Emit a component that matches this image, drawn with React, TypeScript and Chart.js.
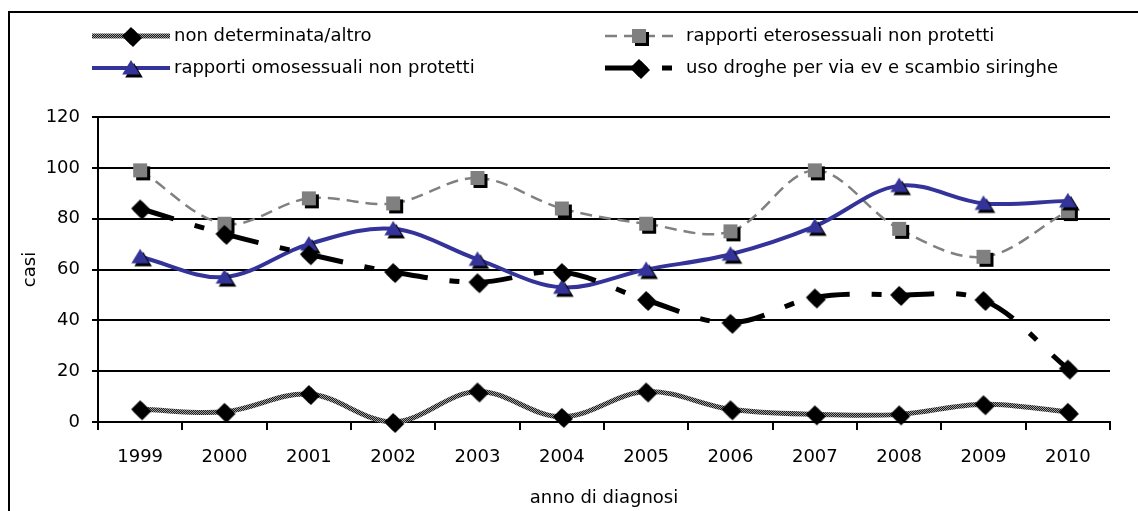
import React, { useEffect, useRef } from "react";
import { Chart, registerables } from "chart.js";

Chart.register(...registerables);

const years = ["1999", "2000", "2001", "2002", "2003", "2004", "2005", "2006", "2007", "2008", "2009", "2010"];
const nonDeterminata = [5, 4, 11, 0, 12, 2, 12, 5, 3, 3, 7, 4];
const eterosessuali = [99, 78, 88, 86, 96, 84, 78, 75, 99, 76, 65, 83];
const omosessuali = [65, 57, 70, 76, 64, 53, 60, 66, 77, 93, 86, 87];
const droghe = [84, 74, 66, 59, 55, 59, 48, 39, 49, 50, 48, 21];

const seriesNames = [
  "non determinata/altro",
  "rapporti eterosessuali non protetti",
  "rapporti omosessuali non protetti",
  "uso droghe per via ev e scambio siringhe",
];

const FONT = "'DejaVu Sans', sans-serif";

function makeMarker(shape: string, fill: string, r: number, off: number) {
  const pad = off + 2;
  const s = Math.ceil(2 * (r + pad));
  const c = document.createElement("canvas");
  c.width = s;
  c.height = s;
  const g = c.getContext("2d")!;
  const cx = s / 2;
  const cy = s / 2;
  const draw = (x: number, y: number) => {
    g.beginPath();
    if (shape === "square") {
      g.rect(x - r, y - r, 2 * r, 2 * r);
    } else if (shape === "triangle") {
      g.moveTo(x, y - r);
      g.lineTo(x + r * 1.1, y + r * 0.8);
      g.lineTo(x - r * 1.1, y + r * 0.8);
      g.closePath();
    } else {
      g.moveTo(x, y - r);
      g.lineTo(x + r, y);
      g.lineTo(x, y + r);
      g.lineTo(x - r, y);
      g.closePath();
    }
    g.fill();
  };
  g.fillStyle = "#000";
  draw(cx + off, cy + off);
  g.fillStyle = fill;
  draw(cx, cy);
  return c;
}

export default function App() {
  const canvasRef = useRef<HTMLCanvasElement | null>(null);

  useEffect(() => {
    const canvas = canvasRef.current!;
    const ctx = canvas.getContext("2d")!;

    const pc = document.createElement("canvas");
    pc.width = 2;
    pc.height = 2;
    const pg = pc.getContext("2d")!;
    pg.fillStyle = "#a0a0a0";
    pg.fillRect(0, 0, 2, 2);
    pg.fillStyle = "#1a1a1a";
    pg.fillRect(0, 0, 1, 1);
    pg.fillRect(1, 1, 1, 1);
    const pattern = ctx.createPattern(pc, "repeat")!;

    const diamond = makeMarker("diamond", "#000", 9, 2);
    const square = makeMarker("square", "#808080", 7, 3);
    const triangle = makeMarker("triangle", "#333399", 8, 3);

    const restartDash = {
      borderDashOffset: (c: any) => c.p0DataIndex * 0.00001,
    };

    const datasets: any[] = [
      {
        label: seriesNames[0],
        data: nonDeterminata,
        borderColor: pattern,
        backgroundColor: "#000",
        borderWidth: 5,
        pointStyle: diamond,
        pointRadius: 8,
        tension: 0.35,
        order: 4,
        clip: false,
      },
      {
        label: seriesNames[1],
        data: eterosessuali,
        borderColor: "#808080",
        backgroundColor: "#808080",
        borderWidth: 2.5,
        borderDash: [12, 7],
        pointStyle: square,
        pointRadius: 8,
        tension: 0.35,
        order: 3,
        clip: false,
        segment: restartDash,
      },
      {
        label: seriesNames[2],
        data: omosessuali,
        borderColor: "#333399",
        backgroundColor: "#333399",
        borderWidth: 4,
        pointStyle: triangle,
        pointRadius: 8,
        tension: 0.35,
        order: 2,
        clip: false,
      },
      {
        label: seriesNames[3],
        data: droghe,
        borderColor: "#000",
        backgroundColor: "#000",
        borderWidth: 5,
        borderDash: [35, 22, 10, 22],
        pointStyle: diamond,
        pointRadius: 8,
        tension: 0.35,
        order: 1,
        clip: false,
        segment: restartDash,
      },
    ];

    const legendPos = [
      { x0: 82, x1: 160, tx: 164, y: 23 },
      { x0: 595, x1: 663, tx: 676, y: 23 },
      { x0: 82, x1: 160, tx: 164, y: 55 },
      { x0: 595, x1: 663, tx: 676, y: 55 },
    ];

    const legendPlugin = {
      id: "customLegend",
      afterDraw(chart: any) {
        const c = chart.ctx;
        chart.data.datasets.forEach((ds: any, i: number) => {
          const p = legendPos[i];
          c.save();
          c.strokeStyle = ds.borderColor;
          c.lineWidth = ds.borderWidth;
          c.setLineDash(ds.borderDash || []);
          c.beginPath();
          c.moveTo(p.x0, p.y);
          c.lineTo(p.x1, p.y);
          c.stroke();
          const img = ds.pointStyle as HTMLCanvasElement;
          const mx = (p.x0 + p.x1) / 2;
          c.drawImage(img, Math.round(mx - img.width / 2), Math.round(p.y - img.height / 2));
          c.setLineDash([]);
          c.fillStyle = "#000";
          c.font = `18px ${FONT}`;
          c.textBaseline = "middle";
          c.textAlign = "left";
          c.fillText(ds.label, p.tx, p.y);
          c.restore();
        });
      },
    };

    const chart = new Chart(canvas, {
      type: "line",
      data: { labels: years, datasets },
      options: {
        responsive: false,
        animation: false,
        layout: { padding: { top: 104, right: 28, left: 0, bottom: 0 } },
        plugins: { legend: { display: false }, tooltip: { enabled: false } },
        scales: {
          x: {
            type: "category",
            offset: true,
            afterFit: (s: any) => {
              s.height = 89;
            },
            grid: {
              offset: true,
              drawOnChartArea: false,
              drawTicks: true,
              tickLength: 8,
              color: "#000",
              lineWidth: 2,
            },
            border: { display: true, color: "#000", width: 2 },
            ticks: {
              color: "#000",
              font: { family: FONT, size: 18 },
              padding: 17,
              autoSkip: false,
              maxRotation: 0,
            },
            title: {
              display: true,
              text: "anno di diagnosi",
              color: "#000",
              font: { family: FONT, size: 18 },
              padding: { top: 0, bottom: 2 },
            },
          },
          y: {
            min: 0,
            max: 120,
            afterFit: (s: any) => {
              s.width = 88;
            },
            grid: {
              color: "#000",
              lineWidth: 2,
              tickLength: 6,
              drawTicks: true,
            },
            border: { display: true, color: "#000", width: 2 },
            ticks: {
              stepSize: 20,
              color: "#000",
              font: { family: FONT, size: 18 },
              padding: 12,
            },
            title: {
              display: true,
              text: "casi",
              color: "#000",
              font: { family: FONT, size: 18 },
              padding: { top: 10, bottom: 0 },
            },
          },
        },
      },
      plugins: [legendPlugin],
    });

    return () => chart.destroy();
  }, []);

  return (
    <div
      style={{
        position: "fixed",
        left: 8,
        top: 11,
        width: 1140,
        height: 520,
        borderLeft: "2px solid #000",
        borderTop: "2px solid #000",
        background: "#fff",
      }}
    >
      <canvas ref={canvasRef} width={1128} height={498} style={{ display: "block" }} />
    </div>
  );
}
